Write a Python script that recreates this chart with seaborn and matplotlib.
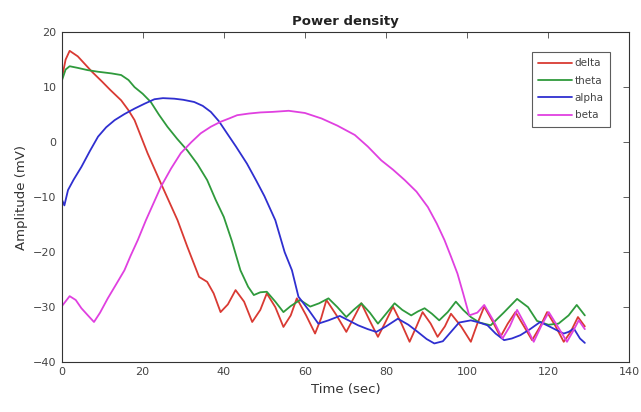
import numpy as np
import pandas as pd
import matplotlib
matplotlib.use("Agg")
import matplotlib.pyplot as plt
import seaborn as sns

# values (time in sec, amplitude in mV)
delta_t = [0, 1, 2, 4, 6, 7.5, 10, 12, 14.7, 16.5, 18, 21.2, 24.5, 28.6, 31, 33.9, 35.9, 37.5,
           39.2, 41, 42.9, 45, 47, 49, 50.6, 52.7, 54.7, 56.5, 58, 60.3, 62.5, 64, 65.3, 67.8,
           70.2, 72, 73.9, 76, 78, 80, 81.7, 83.8, 85.8, 87.5, 89, 91, 92.7, 94.5, 96, 98.5,
           100.9, 102.5, 104.2, 106.2, 108.2, 110, 111.9, 114, 116, 118, 119.7, 121.8, 123.8,
           125.5, 127.3, 129]
delta_v = [11.3, 15, 16.6, 15.6, 14, 12.8, 11, 9.5, 7.6, 5.8, 4, -2, -7.5, -14.2, -19, -24.5,
           -25.4, -27.5, -30.9, -29.5, -26.9, -29, -32.7, -30.5, -27.5, -30, -33.6, -31.5, -28.4,
           -31.5, -34.8, -32, -28.7, -31.5, -34.5, -32, -29.3, -32.5, -35.4, -32.5, -29.9, -33,
           -36.3, -33.5, -30.9, -33, -35.4, -33.5, -31.2, -33.5, -36.3, -33, -29.9, -32.5, -35.4,
           -33, -30.9, -33.5, -36, -33.5, -30.9, -33.5, -36.3, -34.5, -31.8, -33.5]

theta_t = [0, 1, 2, 4, 6.4, 9, 12.3, 14.7, 16.5, 18, 20, 22, 24, 26.1, 28.5, 31, 33.5, 35.9, 38,
           40, 42, 44.1, 46, 47.4, 49, 50.6, 52.7, 54.7, 56.5, 58.8, 61.3, 63.5, 65.8, 68, 70.2,
           72, 73.9, 76, 78, 80, 82.1, 84, 86.2, 87.8, 89.5, 91.3, 93.1, 95.2, 97.2, 99, 100.9,
           103, 105.8, 109, 112.3, 115, 117.2, 120, 122.5, 125, 127, 129]
theta_v = [11, 13.2, 13.8, 13.5, 13.1, 12.8, 12.5, 12.2, 11.3, 10, 8.8, 7.3, 5, 2.8, 0.6, -1.5,
           -4, -6.9, -10.5, -13.6, -18, -23.3, -26.3, -27.8, -27.3, -27.2, -29, -30.9, -29.8,
           -28.7, -29.9, -29.3, -28.4, -30, -31.8, -30.5, -29.3, -31, -33, -31.2, -29.3, -30.5,
           -31.5, -30.8, -30.2, -31.2, -32.4, -30.9, -29, -30.5, -31.8, -32.8, -33.3, -31,
           -28.5, -30, -32.5, -33.2, -33, -31.5, -29.6, -31.5]

alpha_t = [0, 0.7, 1.6, 3, 4.9, 7, 9, 11, 13.1, 15.5, 18, 20.5, 22.9, 25, 27.8, 30, 32.7, 34.8,
           36.8, 38.8, 40.8, 43, 45.7, 48, 50, 52.7, 55, 56.8, 58.4, 60.9, 63.3, 65.8, 68.6, 71,
           73.1, 75.5, 77.6, 80, 82.9, 85.5, 87.8, 90, 91.9, 94, 96, 98, 100.9, 103, 105, 107,
           109.1, 111, 113.1, 115.5, 118, 120.5, 122.1, 123.8, 125, 126.3, 127.8, 129]
alpha_v = [-10.3, -11.5, -8.7, -6.8, -4.5, -1.6, 1, 2.7, 4, 5.1, 6.1, 7, 7.8, 8, 7.9, 7.7, 7.3,
           6.6, 5.5, 3.8, 1.6, -0.8, -3.9, -7, -9.8, -14.2, -20, -23.3, -28.1, -30.5, -33, -32.4,
           -31.6, -32.5, -33.3, -34, -34.5, -33.5, -32.1, -33.2, -34.5, -35.8, -36.6, -36.2,
           -34.5, -32.8, -32.4, -32.8, -33.3, -34.8, -36, -35.7, -35.1, -34, -32.7, -33.6,
           -34.2, -34.8, -34.5, -33.9, -35.7, -36.5]

beta_t = [0, 2, 3.5, 4.9, 6.5, 8, 9.5, 11.4, 13.5, 15.5, 17, 18.8, 20.8, 24.5, 27, 29.4, 32,
          34.3, 36.8, 39.2, 41.3, 43.3, 46.2, 49, 52, 56, 60, 64.1, 68, 72.3, 75.5, 78.8, 81.7,
          84.6, 87.5, 90.3, 92.5, 94.4, 96, 97.6, 99, 100.5, 102.5, 104.2, 106.5, 108.7, 110.5,
          112.3, 114.5, 116.4, 118.2, 120.1, 122.3, 124.6, 126, 127.5, 129]
beta_v = [-29.9, -28, -28.7, -30.2, -31.5, -32.7, -31, -28.4, -25.8, -23.3, -20.7, -17.8, -14.2,
          -8.1, -4.8, -2, 0, 1.6, 2.8, 3.7, 4.3, 4.9, 5.2, 5.4, 5.5, 5.7, 5.3, 4.3, 3, 1.3, -0.8,
          -3.3, -5, -6.9, -9, -11.8, -14.8, -17.8, -20.8, -23.9, -27.5, -31.5, -31, -29.6, -32.5,
          -35.7, -33.5, -30.5, -33.5, -36.3, -33.5, -30.9, -33.5, -36.3, -34.5, -32.4, -34]

bands = ["delta", "theta", "alpha", "beta"]
colors = ["#d93a33", "#2f9a3c", "#2f2fd0", "#e040e0"]

frames = []
for name, t, v in zip(bands, [delta_t, theta_t, alpha_t, beta_t],
                      [delta_v, theta_v, alpha_v, beta_v]):
    frames.append(pd.DataFrame({"time": t, "amp": v, "band": name}))
df = pd.concat(frames, ignore_index=True)

sns.set_style("white")
plt.rcParams['font.family'] = ['DejaVu Sans']

fig = plt.figure(figsize=(6.41, 4.12), dpi=100)
ax = fig.add_axes([0.096, 0.121, 0.886, 0.801])

sns.lineplot(data=df, x="time", y="amp", hue="band", hue_order=bands,
             palette=colors, sort=False, estimator=None, linewidth=1.3, ax=ax)

ax.set_xlim(0, 140)
ax.set_ylim(-40, 20)
ax.set_xticks(range(0, 141, 20))
ax.set_yticks(range(-40, 21, 10))
ax.tick_params(direction="in", top=True, right=True, length=4, width=0.6,
               labelsize=8, labelcolor="#444444", color="#444444")
for s in ax.spines.values():
    s.set_color("#333333")
    s.set_linewidth(0.8)

ax.set_xlabel("Time (sec)", fontsize=9.5, color="#333333")
ax.set_ylabel("Amplitude (mV)", fontsize=9.5, color="#333333")
ax.set_title("Power density", fontsize=9.5, fontweight="bold", color="#222222", pad=5)

leg = ax.legend(loc="upper right", bbox_to_anchor=(0.975, 0.955), fontsize=7.5,
                handlelength=3.2, frameon=True, fancybox=False, borderpad=0.6,
                labelspacing=0.7, handletextpad=0.3)
leg.get_frame().set_edgecolor("#333333")
leg.get_frame().set_linewidth(0.8)
for txt in leg.get_texts():
    txt.set_color("#444444")

fig.savefig("out.png", dpi=100)
